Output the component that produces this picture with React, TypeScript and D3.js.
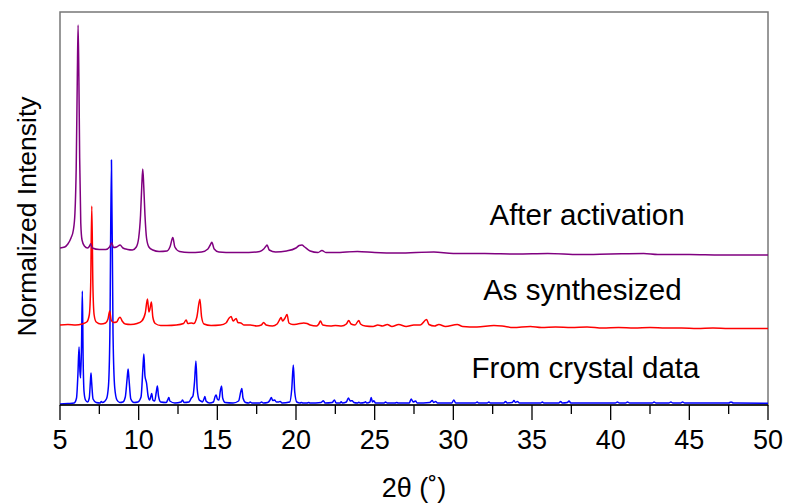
import * as d3 from "d3";

// 2θ (deg) vs intensity vertices, relative to each trace's own baseline
const CRYSTAL: [number, number][] = [
  [5.0, 0], [5.5, 0.5], [5.9, 1], [6.05, 6], [6.14, 30], [6.21, 57], [6.27, 32], [6.31, 26], [6.37, 60], [6.42, 113],
  [6.47, 45], [6.53, 12], [6.62, 4], [6.75, 2], [6.86, 6], [6.93, 22], [6.97, 31], [7.01, 22], [7.1, 5], [7.3, 1.5],
  [7.55, 1], [7.62, 2.5], [7.7, 1.5], [7.95, 5], [8.08, 18], [8.17, 70], [8.27, 244], [8.37, 70], [8.48, 16], [8.62, 4],
  [8.8, 1.5], [9.0, 2], [9.15, 7], [9.27, 26], [9.33, 35], [9.39, 24], [9.5, 5], [9.7, 1.5], [9.95, 2], [10.15, 7],
  [10.27, 36], [10.33, 50], [10.4, 28], [10.5, 21], [10.6, 8], [10.7, 4], [10.78, 8], [10.83, 10.6], [10.9, 4], [11.02, 3],
  [11.12, 12], [11.19, 18], [11.26, 8], [11.4, 2], [11.75, 1.5], [11.87, 5], [11.92, 6.6], [11.98, 3], [12.3, 1], [12.7, 2],
  [12.79, 4], [12.88, 1.5], [13.2, 2], [13.35, 6], [13.45, 8], [13.55, 22], [13.64, 43], [13.72, 15], [13.85, 4], [13.95, 3],
  [14.05, 2], [14.15, 5], [14.21, 7.6], [14.28, 3], [14.5, 1], [14.75, 2], [14.87, 8], [14.93, 9], [15.0, 5], [15.1, 4],
  [15.2, 14], [15.27, 18], [15.34, 6], [15.5, 1.5], [16.0, 1], [16.35, 3], [16.5, 13], [16.56, 15.6], [16.63, 6], [16.8, 1.5],
  [17.0, 1], [17.09, 2], [17.2, 1], [17.7, 1], [17.81, 2], [17.92, 1], [18.2, 1.5], [18.35, 4], [18.43, 6.6], [18.52, 3.5],
  [18.64, 4], [18.75, 2], [18.9, 2], [19.0, 2.6], [19.1, 1], [19.6, 2], [19.73, 15], [19.83, 39], [19.92, 12], [20.05, 2],
  [20.25, 1], [20.34, 1.5], [20.45, 1], [20.7, 1], [20.8, 1.5], [20.9, 1], [21.6, 1.5], [21.74, 3.3], [21.85, 1], [22.3, 1.5],
  [22.44, 4], [22.55, 1], [22.8, 1], [22.87, 2.3], [22.95, 1], [23.2, 2], [23.33, 6], [23.45, 3], [23.57, 3.3], [23.68, 1.5],
  [23.9, 1], [23.99, 1.8], [24.1, 1], [24.35, 1.5], [24.41, 2.3], [24.5, 1], [24.7, 2], [24.78, 6.6], [24.86, 2], [24.95, 3.3],
  [25.05, 1], [25.6, 1], [25.69, 2], [25.8, 1], [26.3, 1], [26.4, 1.5], [26.5, 1], [27.2, 1], [27.32, 5], [27.45, 2],
  [27.6, 3], [27.7, 1], [28.5, 1.5], [28.66, 3.5], [28.75, 1.5], [28.87, 2.5], [29.0, 1], [29.9, 1], [30.03, 4], [30.15, 1],
  [31.4, 1], [31.52, 2], [31.6, 1], [32.15, 1], [32.26, 2], [32.35, 1], [33.2, 1], [33.32, 2.5], [33.42, 1], [33.75, 1.5],
  [33.85, 3.5], [33.95, 1.5], [34.07, 2.5], [34.2, 1], [35.55, 1], [35.66, 2], [35.75, 1], [36.7, 1], [36.82, 2.5], [36.92, 1],
  [37.25, 1.5], [37.35, 3], [37.47, 1], [40.3, 1], [40.43, 2], [40.55, 1], [40.95, 1], [41.07, 2], [41.2, 1], [42.65, 1],
  [42.76, 2], [42.88, 1], [43.7, 1], [43.83, 2], [43.95, 1], [44.45, 1], [44.57, 2], [44.7, 1], [47.5, 1], [47.65, 2],
  [47.8, 1], [50, 0.8],
];

const SYNTHESIZED: [number, number][] = [
  [5, 0], [5.5, 0.5], [6.0, 0], [6.4, 1], [6.7, 3], [6.86, 10], [6.95, 40], [7.02, 119], [7.09, 40], [7.17, 10],
  [7.3, 3], [7.6, 1], [7.9, 2], [8.05, 6], [8.16, 14], [8.25, 5], [8.4, 2.5], [8.6, 3], [8.75, 7], [8.82, 7.7],
  [8.95, 4], [9.15, 1], [9.5, 0.5], [9.9, 1.5], [10.2, 4], [10.42, 12], [10.56, 26], [10.65, 13], [10.7, 15], [10.81, 23],
  [10.9, 8], [11.05, 1.5], [11.4, -0.5], [11.8, -0.5], [12.4, 0], [12.85, 1.5], [13.02, 5], [13.12, 1.5], [13.35, 2], [13.5, 1.5],
  [13.7, 8], [13.89, 25.7], [14.0, 8], [14.15, 1], [14.6, -0.5], [15.2, 0], [15.55, 2], [15.75, 7], [15.88, 8.5], [16.0, 4],
  [16.2, 6.5], [16.3, 2.5], [16.5, 2], [16.7, 0], [17.1, 0], [17.5, -1], [17.8, 0], [17.94, 2.5], [18.1, 0], [18.5, -1],
  [18.8, 1], [19.0, 6.5], [19.05, 7.5], [19.15, 4], [19.3, 7], [19.43, 10.5], [19.55, 2], [19.8, 0.5], [20.1, 1], [20.49, 2],
  [20.7, 1.5], [20.9, 0], [21.3, -1], [21.45, 1], [21.55, 4], [21.7, 0], [22.2, -1], [22.5, -0.5], [22.9, -1], [23.2, 1],
  [23.35, 4.5], [23.5, 1], [23.75, 0], [23.99, 4.5], [24.1, 1], [24.4, -1], [24.9, -1.5], [25.2, 0], [25.5, -1], [25.8, 0.5],
  [26.1, -1.5], [26.53, 0.5], [27.0, -1.5], [27.49, 0], [27.9, 0], [28.3, 5.5], [28.45, 0.5], [28.8, -1], [29.08, 0.5], [29.5, -1.5],
  [30.25, 0.5], [30.6, -1.5], [31.5, -2], [32.58, -0.5], [33.1, -1], [33.8, -2.5], [34.9, -1.5], [35.6, -2.5], [36.5, -2], [37.5, -2.5],
  [38.5, -2], [39.5, -3], [40.5, -2.5], [41.5, -3], [42.5, -2.5], [43.5, -3], [44.5, -3], [45.5, -3.5], [46.5, -3], [47.5, -3.5],
  [48.5, -3.5], [50, -3.5],
];

const ACTIVATED: [number, number][] = [
  [5, 0], [5.3, 1], [5.5, 4], [5.7, 10], [5.85, 18], [5.95, 35], [6.03, 80], [6.1, 170], [6.15, 223], [6.2, 170],
  [6.25, 90], [6.32, 25], [6.4, 8], [6.55, 2], [6.75, 0], [6.88, 2], [6.95, 4.3], [7.05, 0], [7.5, -1.5], [7.9, -1.5],
  [8.15, 1], [8.29, 5.3], [8.4, 0.5], [8.6, 1], [8.82, 3], [9.0, 0], [9.3, -1.5], [9.6, -2], [9.85, 1], [10.0, 10],
  [10.12, 33], [10.2, 63], [10.26, 79], [10.32, 63], [10.4, 33], [10.5, 10], [10.65, 1], [10.9, -2], [11.3, -3.5], [11.8, -3],
  [12.0, 1.5], [12.17, 10.5], [12.3, 1], [12.6, -3.5], [13.2, -4.5], [14.0, -4], [14.4, -1], [14.55, 3], [14.65, 5.7], [14.8, -1],
  [15.1, -4], [16, -4.5], [17, -4.5], [17.7, -3.5], [17.95, -1], [18.1, 2], [18.16, 3], [18.3, -2], [18.7, -4], [19.4, -3],
  [20.0, 0], [20.2, 2.5], [20.38, 3], [20.55, 1], [20.9, -3], [21.4, -4.5], [21.65, -2.5], [21.9, -4.5], [22.5, -4.5], [23.9, -3.5],
  [25, -4.5], [26.5, -5], [28.76, -4], [30, -5.5], [32, -5.5], [34, -6], [36, -5.5], [38, -6.5], [40, -6], [42.1, -5.5],
  [43, -6.5], [45, -6.5], [47, -7], [50, -7],
];

const TRACE_NAMES = ["From crystal data", "As synthesized", "After activation"];
const TRACE_COLORS = ["#0000ff", "#ff0000", "#800080"];
const TRACE_OFFSETS = [1, 80, 157];
// label anchor: [2θ, intensity]
const LABEL_POS: [number, number][] = [[38.4, 27], [38.2, 105], [38.5, 180]];

const X_TICKS = [5, 10, 15, 20, 25, 30, 35, 40, 45, 50];
const X_MINOR = [7.5, 12.5, 17.5, 22.5, 27.5, 32.5, 37.5, 42.5, 47.5];

const W = 786;
const H = 504;
const M = { top: 12, right: 18, bottom: 99, left: 60 };

export default function App() {
  const x = d3.scaleLinear().domain([5, 50]).range([M.left, W - M.right]);
  const y = d3.scaleLinear().domain([0, 393]).range([H - M.bottom, M.top]);
  const traces = [CRYSTAL, SYNTHESIZED, ACTIVATED];

  const font = "Liberation Sans, Arial, sans-serif";
  const narrow = "'Liberation Sans Narrow', 'Arial Narrow', sans-serif";
  const y0 = H - M.bottom;

  return (
    <svg
      width={W}
      height={H}
      style={{ position: "absolute", left: 0, top: 0, background: "#fff" }}
    >
      {/* frame */}
      <rect
        x={M.left}
        y={M.top}
        width={W - M.left - M.right}
        height={H - M.top - M.bottom}
        fill="none"
        stroke="#777"
        strokeWidth={1.5}
      />

      {traces.map((tr, i) => {
        const line = d3
          .line<[number, number]>()
          .x((d) => x(d[0]))
          .y((d) => y(d[1] + TRACE_OFFSETS[i]))
          .curve(d3.curveMonotoneX);
        return (
          <path
            key={TRACE_NAMES[i]}
            d={line(tr) ?? ""}
            fill="none"
            stroke={TRACE_COLORS[i]}
            strokeWidth={1.5}
            strokeLinejoin="round"
          />
        );
      })}

      {/* bottom axis */}
      <line x1={M.left} x2={W - M.right} y1={y0} y2={y0} stroke="#000" strokeWidth={1.5} />
      {X_TICKS.map((t) => (
        <g key={t}>
          <line x1={x(t)} x2={x(t)} y1={y0} y2={y0 + 15} stroke="#000" strokeWidth={1.3} />
          <text x={x(t)} y={y0 + 44} textAnchor="middle" fontFamily={narrow} fontSize={27} fill="#000">
            {t}
          </text>
        </g>
      ))}
      {X_MINOR.map((t) => (
        <line key={t} x1={x(t)} x2={x(t)} y1={y0} y2={y0 + 9} stroke="#000" strokeWidth={1.3} />
      ))}

      <text x={x(27.5)} y={H - 7} textAnchor="middle" fontFamily={narrow} fontSize={27} fill="#000">
        2θ (˚)
      </text>
      <text
        transform={`translate(36, ${(M.top + y0) / 2 + 8}) rotate(-90)`}
        textAnchor="middle"
        fontFamily={font}
        fontSize={26.5}
        fill="#000"
      >
        Normalized Intensity
      </text>

      {TRACE_NAMES.map((name, i) => (
        <text
          key={name}
          x={x(LABEL_POS[i][0])}
          y={y(LABEL_POS[i][1])}
          textAnchor="middle"
          fontFamily={font}
          fontSize={29.5}
          fill="#000"
        >
          {name}
        </text>
      ))}
    </svg>
  );
}
